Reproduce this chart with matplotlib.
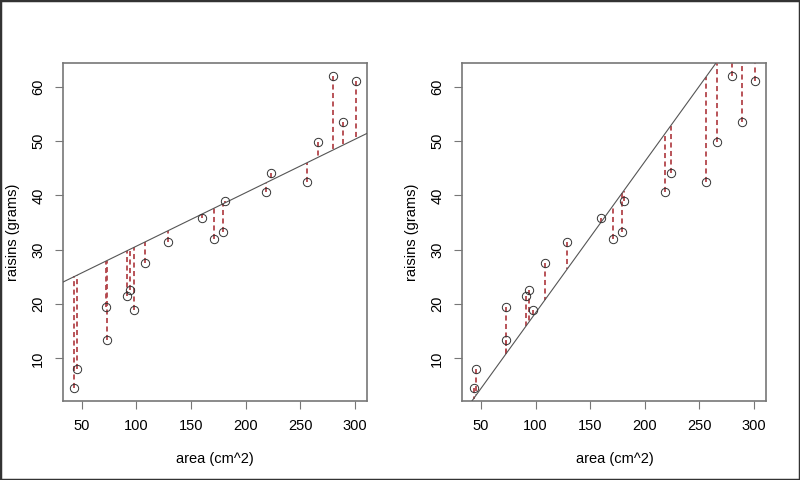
import numpy as np
import matplotlib.pyplot as plt
from matplotlib.patches import Rectangle

plt.rcParams['font.family'] = ['Liberation Sans', 'DejaVu Sans']

# data
area = [43.2, 45.4, 72.5, 73.0, 91.2, 94.2, 97.9, 108.2, 129.0, 160.1,
        171.3, 179.6, 180.8, 218.9, 223.8, 256.1, 266.5, 280.2, 289.1, 301.2]
raisins = [4.5, 8.1, 19.5, 13.4, 21.5, 22.6, 19.0, 27.5, 31.5, 35.8,
           31.9, 33.3, 39.0, 40.6, 44.2, 42.5, 49.9, 62.0, 53.5, 61.1]

# two guessed lines (intercept, slope)
line_left = [20.84, 0.0982]
line_right = [-9.4, 0.278]

xticks = [50, 100, 150, 200, 250, 300]
yticks = [10, 20, 30, 40, 50, 60]

x = np.array(area)
y = np.array(raisins)

fig = plt.figure(figsize=(8, 4.8), dpi=100)
axes = [fig.add_axes([0.079, 0.165, 0.38, 0.703]),
        fig.add_axes([0.578, 0.165, 0.38, 0.703])]

for ax, (a, b) in zip(axes, [line_left, line_right]):
    fit = a + b * x
    for xi, yi, fi in zip(x, y, fit):
        ax.plot([xi, xi], [yi, fi], color='#b3454b', lw=1.3, ls=(0, (2.8, 1.9)), zorder=2)
    ax.axline((0, a), slope=b, color='#555555', lw=0.8, zorder=3)
    ax.plot(x, y, 'o', mfc='none', mec='#333333', ms=6, mew=0.7, zorder=4)

    r = x.max() - x.min()
    ax.set_xlim(x.min() - 0.04 * r, x.max() + 0.04 * r)
    r = y.max() - y.min()
    ax.set_ylim(y.min() - 0.04 * r, y.max() + 0.04 * r)
    ax.set_xticks(xticks)
    ax.set_yticks(yticks)
    ax.tick_params(direction='out', length=6, width=0.8, color='#777777',
                   labelsize=10.5, pad=7)
    for lab in ax.get_yticklabels():
        lab.set_rotation(90)
        lab.set_va('center')
    for s in ax.spines.values():
        s.set_color('#777777')
        s.set_linewidth(1.2)
    ax.set_xlabel('area (cm^2)', fontsize=10.5, labelpad=14)
    ax.set_ylabel('raisins (grams)', fontsize=10.5, labelpad=8)

fig.add_artist(Rectangle((0, 0), 1, 1, transform=fig.transFigure,
                         fill=False, edgecolor='#333333', lw=2.5))

plt.savefig('out.png', dpi=100)
